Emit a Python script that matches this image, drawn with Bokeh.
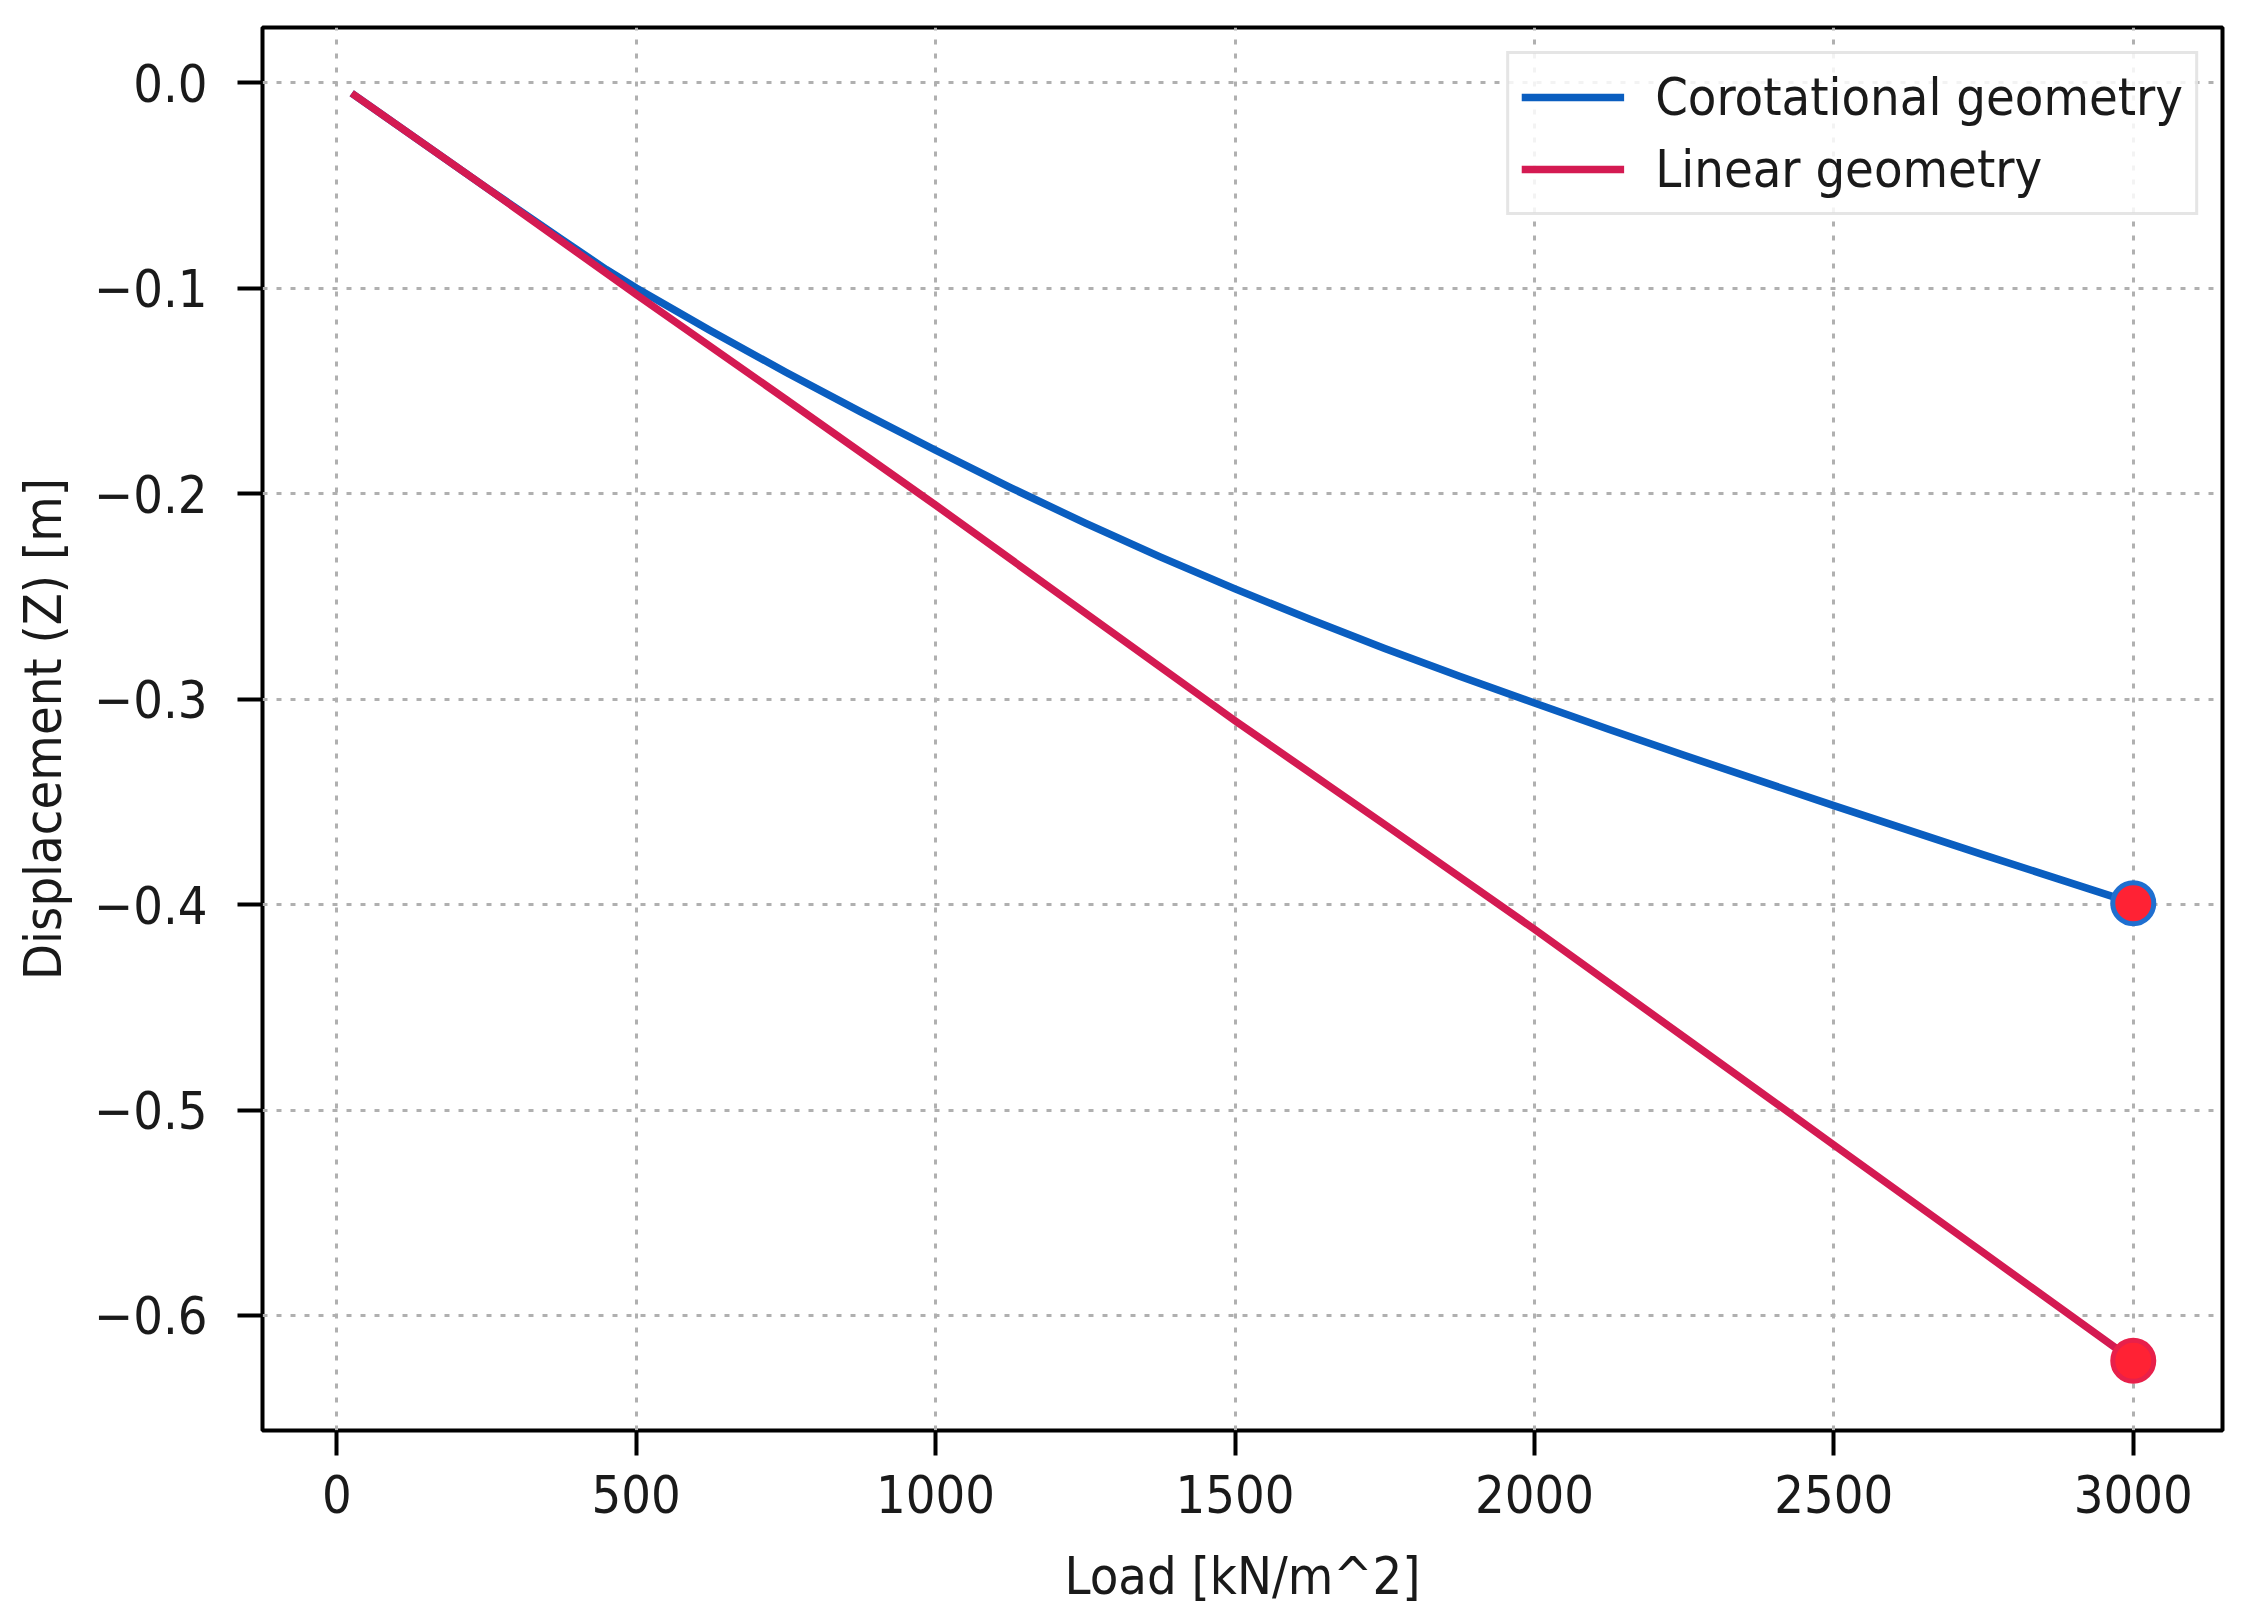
from bokeh.plotting import figure
from bokeh.models import Range1d, FixedTicker, Legend, LegendItem
from bokeh.embed import file_html
from bokeh.resources import INLINE

# ---- data ----
load_corotational = [25, 250, 375, 450, 500, 625, 750, 875, 1000, 1125, 1250, 1375,
                     1500, 1625, 1750, 1875, 2000, 2125, 2250, 2500, 2750, 3000]
disp_corotational = [-0.005, -0.051, -0.076, -0.0908, -0.0998, -0.1208, -0.1408,
                     -0.1601, -0.1788, -0.1970, -0.2143, -0.2307, -0.2463, -0.2611,
                     -0.2753, -0.2888, -0.3018, -0.3147, -0.3273, -0.3518, -0.3758,
                     -0.3993]
load_linear = [25, 250, 500, 750, 1000, 1250, 1500, 1750, 2000, 2250, 2500, 2750, 3000]
disp_linear = [-0.005, -0.051, -0.103, -0.154, -0.2055, -0.258, -0.3105, -0.361,
               -0.412, -0.4645, -0.517, -0.5695, -0.622]
x_ticks = [0, 500, 1000, 1500, 2000, 2500, 3000]
y_ticks = [0.0, -0.1, -0.2, -0.3, -0.4, -0.5, -0.6]
y_tick_labels = ["0.0", "\u22120.1", "\u22120.2", "\u22120.3", "\u22120.4", "\u22120.5", "\u22120.6"]
series_names = ["Corotational geometry", "Linear geometry"]

FONT = "'DejaVu Sans Condensed', 'Liberation Sans Narrow', 'DejaVu Sans', sans-serif"
FS = "52px"
BLUE = "#0a5ec0"
CRIMSON = "#d41a52"

p = figure(width=2229, height=1608, output_backend="svg", toolbar_location=None,
           x_range=Range1d(-124, 3149), y_range=Range1d(-0.656, 0.027),
           min_border_left=262, min_border_right=7, min_border_top=27, min_border_bottom=174)

p.background_fill_color = "white"
p.border_fill_color = "white"
p.outline_line_color = "black"
p.outline_line_width = 4

# grid
for g in (p.xgrid, p.ygrid):
    g.grid_line_color = "#b0b0b0"
    g.grid_line_width = 3
    g.grid_line_dash = "5 9"

p.xaxis.ticker = FixedTicker(ticks=x_ticks)
p.yaxis.ticker = FixedTicker(ticks=y_ticks)
p.yaxis.major_label_overrides = {v: s for v, s in zip(y_ticks, y_tick_labels)}

for ax in (p.xaxis, p.yaxis):
    ax.axis_line_color = None
    ax.major_tick_line_color = "black"
    ax.major_tick_line_width = 4
    ax.major_tick_out = 25
    ax.major_tick_in = 0
    ax.minor_tick_line_color = None
    ax.major_label_text_font = FONT
    ax.major_label_text_font_size = FS
    ax.major_label_text_color = "#1a1a1a"
    ax.axis_label_text_font = FONT
    ax.axis_label_text_font_size = FS
    ax.axis_label_text_font_style = "normal"
    ax.axis_label_text_color = "#1a1a1a"

p.xaxis.axis_label = "Load [kN/m^2]"
p.yaxis.axis_label = "Displacement (Z) [m]"
p.xaxis.major_label_standoff = 19
p.xaxis.axis_label_standoff = 30
p.yaxis.major_label_standoff = 30
p.yaxis.axis_label_standoff = 18

r_blue = p.line(load_corotational, disp_corotational, line_color=BLUE, line_width=7.5,
                line_join="round")
r_red = p.line(load_linear, disp_linear, line_color=CRIMSON, line_width=7.5,
               line_join="round")

p.scatter([load_corotational[-1]], [disp_corotational[-1]], size=41, fill_color="#ff2234",
          line_color="#1f6fd0", line_width=5)
p.scatter([load_linear[-1]], [disp_linear[-1]], size=41, fill_color="#ff2234",
          line_color="#e8204a", line_width=5)

legend = Legend(items=[LegendItem(label=series_names[0], renderers=[r_blue]),
                       LegendItem(label=series_names[1], renderers=[r_red])],
                location="top_right", margin=24, padding=12, spacing=10,
                glyph_width=103, glyph_height=62, label_height=62, label_standoff=31,
                label_text_font=FONT, label_text_font_size=FS, label_text_color="#1a1a1a",
                border_line_color="#cccccc", border_line_width=3,
                background_fill_color="white", background_fill_alpha=0.85)
p.add_layout(legend)

open("out.html", "w").write(file_html(p, INLINE))
